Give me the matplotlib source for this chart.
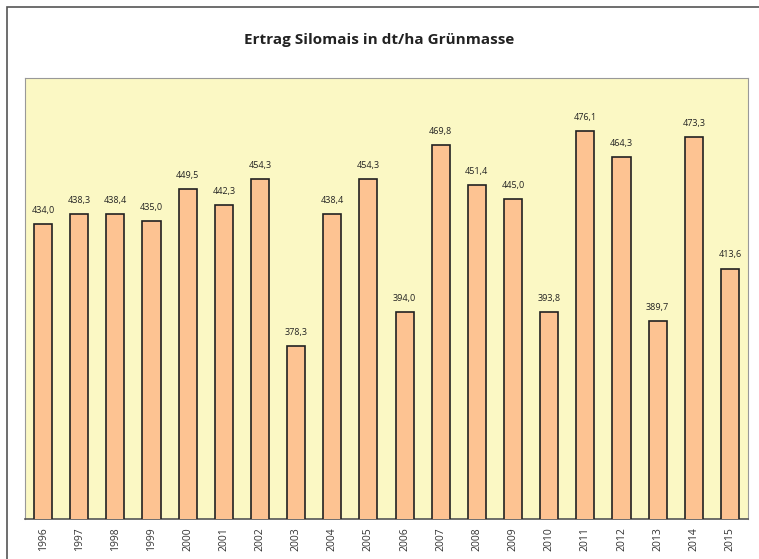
import matplotlib.pyplot as plt
from matplotlib.patches import Rectangle

years = ["1996", "1997", "1998", "1999", "2000", "2001", "2002", "2003", "2004", "2005",
         "2006", "2007", "2008", "2009", "2010", "2011", "2012", "2013", "2014", "2015"]
ertrag = [434.0, 438.3, 438.4, 435.0, 449.5, 442.3, 454.3, 378.3, 438.4, 454.3,
          394.0, 469.8, 451.4, 445.0, 393.8, 476.1, 464.3, 389.7, 473.3, 413.6]

plt.rcParams['font.family'] = ['Open Sans', 'DejaVu Sans']

fig = plt.figure(figsize=(7.59, 5.59), dpi=100)
# outer frame
fig.patches.append(Rectangle((7/759, -0.05), 1.1, 1 - 7/559 + 0.05, transform=fig.transFigure,
                             fill=False, edgecolor='#555555', linewidth=1.2))

ax = fig.add_axes([25/759, 1 - 519/559, (748 - 25)/759, (519 - 78)/559])
ax.set_facecolor('#FBF8C4')
x = range(len(years))
bars = ax.bar(x, ertrag, width=0.5, color='#FDC392', edgecolor='#222222', linewidth=1.2, zorder=3)
for xi, v in zip(x, ertrag):
    ax.annotate(f"{v:.1f}".replace('.', ','), (xi, v), xytext=(0, 6.5), textcoords='offset points',
                ha='center', va='bottom', fontsize=6.5, color='#222222')

ax.set_xlim(-0.5, len(years) - 0.5)
ax.set_ylim(300, 500)
ax.set_yticks([])
ax.set_xticks(list(x))
ax.set_xticklabels(years, rotation=90, fontsize=7.5, color='#333333')
ax.tick_params(axis='x', length=0, pad=6)
for s in ['left', 'top', 'right']:
    ax.spines[s].set_color('#999999')
ax.spines['bottom'].set_color('#555555')
ax.spines['bottom'].set_linewidth(1.2)

fig.text(0.5, 1 - 40/559, "Ertrag Silomais in dt/ha Grünmasse", ha='center', va='center',
         fontsize=11, fontweight='bold', color='#222222')

fig.savefig("out.png", dpi=100)
